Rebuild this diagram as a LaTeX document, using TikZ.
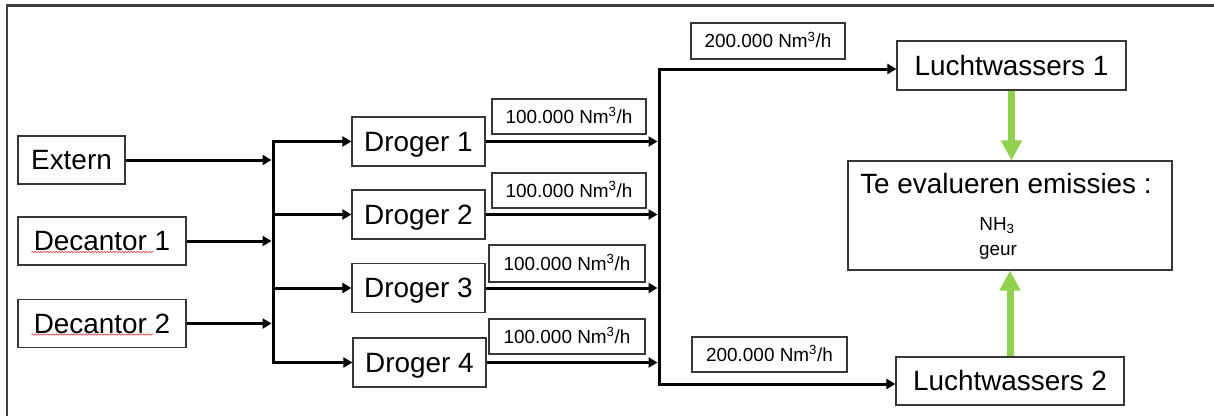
\documentclass[tikz,border=0pt]{standalone}
\usepackage{fontspec}
\setmainfont{Liberation Sans}
\usetikzlibrary{arrows.meta,calc,decorations.pathmorphing}
\definecolor{frameline}{RGB}{64,64,64}
\definecolor{boxline}{RGB}{55,55,55}
\definecolor{leafgreen}{RGB}{146,208,80}
\definecolor{spellred}{RGB}{225,70,70}
\tikzset{
  box/.style={draw=boxline, line width=1.2bp, rectangle, inner sep=0pt,
    text height=19bp, text depth=0bp, font=\fontsize{28}{34}\selectfont},
  lbl/.style={box, text height=13bp, font=\fontsize{19}{23}\selectfont},
  flow/.style={line width=3bp, -{Triangle[length=9bp,width=10bp]}},
  bus/.style={line width=3bp, line cap=rect},
  feed/.style={draw=leafgreen, line width=7bp, -{Triangle[length=20bp,width=20bp]}},
  spell/.style={draw=spellred, line width=0.6bp, decorate,
    decoration={snake, amplitude=0.7bp, segment length=3bp}},
}
\begin{document}
\begin{tikzpicture}[x=1bp, y=-1bp]
\useasboundingbox (0,0) rectangle (1214,416);
% outer frame (top and left edges)
\draw[frameline, line width=2.5bp] (7,416) -- (7,5.5) -- (1214,5.5);

% sources
\node[box, minimum width=107bp, minimum height=48bp] (extern) at (71.5,160) {Extern};
\node[box, minimum width=168bp, minimum height=48bp] (dec1) at (102,241) {Decantor 1};
\node[box, minimum width=168bp, minimum height=48bp] (dec2) at (102,323.5) {Decantor 2};
\draw[spell] ($(dec1.west)+(14,11)$) -- ++(122,0);
\draw[spell] ($(dec2.west)+(14,11)$) -- ++(122,0);

% dryers
\node[box, minimum width=133bp, minimum height=49bp] (dr1) at (418.5,141.5) {Droger 1};
\node[box, minimum width=133bp, minimum height=49bp] (dr2) at (418.5,214.5) {Droger 2};
\node[box, minimum width=133bp, minimum height=49bp] (dr3) at (418.5,288) {Droger 3};
\node[box, minimum width=133bp, minimum height=49bp] (dr4) at (419.5,362.5) {Droger 4};

% flow labels
\node[lbl, minimum width=154bp, minimum height=35bp] (f1) at (569,116.5) {100.000 Nm\textsuperscript{3}/h};
\node[lbl, minimum width=154bp, minimum height=35bp] (f2) at (569,190.5) {100.000 Nm\textsuperscript{3}/h};
\node[lbl, minimum width=156bp, minimum height=37bp] (f3) at (567,263.5) {100.000 Nm\textsuperscript{3}/h};
\node[lbl, minimum width=156bp, minimum height=35bp] (f4) at (567,336.5) {100.000 Nm\textsuperscript{3}/h};
\node[lbl, minimum width=154bp, minimum height=36bp] (f5) at (768,41) {200.000 Nm\textsuperscript{3}/h};
\node[lbl, minimum width=155bp, minimum height=35bp] (f6) at (769.5,354.5) {200.000 Nm\textsuperscript{3}/h};

% scrubbers and emissions
\node[box, minimum width=229bp, minimum height=49bp] (lw1) at (1011.5,65.5) {Luchtwassers 1};
\node[box, minimum width=228bp, minimum height=48bp] (lw2) at (1010,381) {Luchtwassers 2};
\node[box, minimum width=324bp, minimum height=109bp] (te) at (1010,215.5) {};
\node[font=\fontsize{28}{34}\selectfont, anchor=base] (tetitle) at (1006,193) {Te evalueren emissies :};
\node[font=\fontsize{19}{23}\selectfont, anchor=base] (nh3) at (997,230) {NH\textsubscript{3}};
\node[font=\fontsize{19}{23}\selectfont, anchor=base] (geur) at (998,255) {geur};

% collector lines
\coordinate (busA) at (273,0);
\coordinate (busB) at (659,0);
\coordinate (topB) at (659,69);
\coordinate (botB) at (659,384);

\draw[flow, shorten >=1.5bp] (extern.east) -- (extern.east -| busA);
\draw[flow, shorten >=1.5bp] (dec1.east) -- (dec1.east -| busA);
\draw[flow, shorten >=1.5bp] (dec2.east) -- (dec2.east -| busA);
\draw[bus] (dr1.west -| busA) -- (dr4.west -| busA);
\foreach \d in {dr1,dr2,dr3,dr4}{
  \draw[flow] (\d.west -| busA) -- (\d.west);
  \draw[flow, shorten >=1.5bp] (\d.east) -- (\d.east -| busB);
}
\draw[bus] (topB) -- (botB);
\draw[flow] (topB) -- (topB -| lw1.west);
\draw[flow] (botB) -- (botB -| lw2.west);

% emission arrows
\draw[feed] (lw1.south) -- (lw1.south |- te.north);
\draw[feed] (lw2.north) -- (lw2.north |- te.south);
\end{tikzpicture}
\end{document}
